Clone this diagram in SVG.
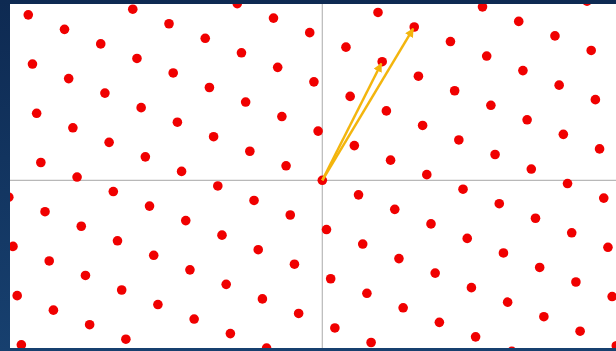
<svg xmlns="http://www.w3.org/2000/svg" width="616" height="351" viewBox="0 0 616 351">
<defs>
<style>
.dot{fill:#f00000}
.axis{stroke:#b8b8b8;stroke-width:1.2;fill:none}
.vec{stroke:#f3b50d;stroke-width:2.5;fill:none;marker-end:url(#ah)}
</style>
<linearGradient id="bg" x1="0" y1="0" x2="0" y2="1">
<stop offset="0" stop-color="#0e2a52"/>
<stop offset="1" stop-color="#17406f"/>
</linearGradient>
<clipPath id="panel"><rect x="10" y="4" width="606" height="344"/></clipPath>
<marker id="ah" viewBox="0 0 10 10" refX="9" refY="5" markerWidth="3.6" markerHeight="3.6" orient="auto" markerUnits="strokeWidth"><path d="M0,0 L10,5 L0,10 z" fill="#f3b50d"/></marker>
<g id="row">
<circle class="dot" r="4.8" cx="-434.76" cy="-174.36"/>
<circle class="dot" r="4.8" cx="-398.53" cy="-159.83"/>
<circle class="dot" r="4.8" cx="-362.3" cy="-145.3"/>
<circle class="dot" r="4.8" cx="-326.07" cy="-130.77"/>
<circle class="dot" r="4.8" cx="-289.84" cy="-116.24"/>
<circle class="dot" r="4.8" cx="-253.61" cy="-101.71"/>
<circle class="dot" r="4.8" cx="-217.38" cy="-87.18"/>
<circle class="dot" r="4.8" cx="-181.15" cy="-72.65"/>
<circle class="dot" r="4.8" cx="-144.92" cy="-58.12"/>
<circle class="dot" r="4.8" cx="-108.69" cy="-43.59"/>
<circle class="dot" r="4.8" cx="-72.46" cy="-29.06"/>
<circle class="dot" r="4.8" cx="-36.23" cy="-14.53"/>
<circle class="dot" r="4.8" cx="0" cy="0"/>
<circle class="dot" r="4.8" cx="36.23" cy="14.53"/>
<circle class="dot" r="4.8" cx="72.46" cy="29.06"/>
<circle class="dot" r="4.8" cx="108.69" cy="43.59"/>
<circle class="dot" r="4.8" cx="144.92" cy="58.12"/>
<circle class="dot" r="4.8" cx="181.15" cy="72.65"/>
<circle class="dot" r="4.8" cx="217.38" cy="87.18"/>
<circle class="dot" r="4.8" cx="253.61" cy="101.71"/>
<circle class="dot" r="4.8" cx="289.84" cy="116.24"/>
<circle class="dot" r="4.8" cx="326.07" cy="130.77"/>
<circle class="dot" r="4.8" cx="362.3" cy="145.3"/>
<circle class="dot" r="4.8" cx="398.53" cy="159.83"/>
<circle class="dot" r="4.8" cx="434.76" cy="174.36"/>
</g>
</defs>
<rect x="0" y="0" width="616" height="351" fill="url(#bg)"/>
<rect x="10" y="4" width="606" height="344" fill="#ffffff"/>
<g id="axes">
<line class="axis" x1="10" y1="180.3" x2="616" y2="180.3"/>
<line class="axis" x1="322.3" y1="4" x2="322.3" y2="348"/>
</g>
<g id="lattice" clip-path="url(#panel)">
<use href="#row" transform="translate(297.16,-115.02)"/>
<use href="#row" transform="translate(301.35,-65.8)"/>
<use href="#row" transform="translate(305.54,-16.58)"/>
<use href="#row" transform="translate(309.73,32.64)"/>
<use href="#row" transform="translate(313.92,81.86)"/>
<use href="#row" transform="translate(318.11,131.08)"/>
<use href="#row" transform="translate(322.3,180.3)"/>
<use href="#row" transform="translate(326.49,229.52)"/>
<use href="#row" transform="translate(330.68,278.74)"/>
<use href="#row" transform="translate(334.87,327.96)"/>
<use href="#row" transform="translate(339.06,377.18)"/>
<use href="#row" transform="translate(343.25,426.4)"/>
<use href="#row" transform="translate(347.44,475.62)"/>
</g>
<g id="connectors">
<line class="vec" x1="322.3" y1="180.3" x2="381.3" y2="63.5"/>
<line class="vec" x1="322.3" y1="180.3" x2="413.2" y2="28.7"/>
</g>
</svg>
